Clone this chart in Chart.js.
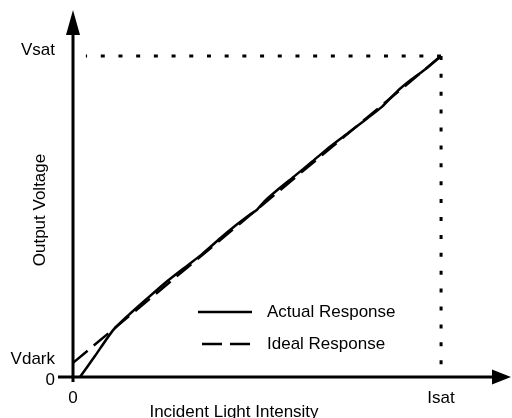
<!DOCTYPE html>
<html>
<head>
<meta charset="utf-8">
<script src="https://cdn.jsdelivr.net/npm/chart.js@4.4.1/dist/chart.umd.min.js"></script>
<style>
  html, body { margin: 0; padding: 0; background: #fff; }
  canvas { display: block; }
</style>
</head>
<body>
<canvas id="chart" width="512" height="418"></canvas>
<script>
// values in units of Isat (x) and Vsat (y)
const vdark = 0.044;
const xTicks = [0, 1];
const xTickLabels = ['0', 'Isat'];
const yTicks = [0, vdark, 1];
const yTickLabels = ['0', 'Vdark', 'Vsat'];

const actualX = [0.019, 0.06, 0.109, 0.15, 0.20, 0.25, 0.30, 0.35, 0.40, 0.44, 0.48, 0.50, 0.52, 0.56, 0.60, 0.65, 0.70, 0.75, 0.80, 0.84, 0.88, 0.92, 0.96, 1.0];
const actualY = [0, 0.066, 0.146, 0.192, 0.243, 0.293, 0.338, 0.382, 0.432, 0.470, 0.505, 0.521, 0.547, 0.587, 0.624, 0.671, 0.719, 0.762, 0.806, 0.842, 0.889, 0.927, 0.961, 1.0];

const idealX = [0, 1];
const idealY = [vdark, 1];

// dotted saturation guides, both drawn from the corner outwards
const satHX = [1, 0.035];
const satHY = [1, 1];
const satVX = [1, 1];
const satVY = [1, 0];

// y tick labels sit a little off their tick in the original (px, + = down)
const yLabelNudge = [3.5, -3.5, -5.5];

const FONT = "'Liberation Sans', Arial, Helvetica, sans-serif";
Chart.defaults.font.family = FONT;
Chart.defaults.font.size = 17;
Chart.defaults.color = '#000';

const pts = (xs, ys) => xs.map((x, i) => ({ x: x, y: ys[i] }));

// axes with arrows, axis titles and the legend
const decorations = {
  id: 'decorations',
  afterDraw(chart) {
    const c = chart.ctx;
    const x = chart.scales.x, y = chart.scales.y;
    const ox = x.getPixelForValue(0), oy = y.getPixelForValue(0);
    const topY = chart.chartArea.top, rightX = chart.chartArea.right;
    c.save();
    c.strokeStyle = '#000';
    c.fillStyle = '#000';
    c.lineWidth = 3;
    c.lineCap = 'butt';
    // y axis
    c.beginPath();
    c.moveTo(ox, oy + 5);
    c.lineTo(ox, topY + 20);
    c.stroke();
    c.beginPath();
    c.moveTo(ox, topY);
    c.lineTo(ox - 7, topY + 25);
    c.lineTo(ox + 7, topY + 25);
    c.closePath();
    c.fill();
    // x axis
    c.beginPath();
    c.moveTo(ox - 15, oy);
    c.lineTo(rightX - 15, oy);
    c.stroke();
    c.beginPath();
    c.moveTo(rightX, oy);
    c.lineTo(rightX - 19, oy - 7.5);
    c.lineTo(rightX - 19, oy + 7.5);
    c.closePath();
    c.fill();

    // axis titles
    c.font = '17px ' + FONT;
    c.textAlign = 'center';
    c.textBaseline = 'alphabetic';
    c.fillText('Incident Light Intensity', 234, 417);
    c.save();
    c.translate(40, 210);
    c.rotate(-Math.PI / 2);
    c.textBaseline = 'middle';
    c.fillText('Output Voltage', 0, 0);
    c.restore();

    // legend
    c.lineWidth = 2.5;
    c.beginPath();
    c.moveTo(198, 312);
    c.lineTo(252, 312);
    c.stroke();
    c.setLineDash([20, 8]);
    c.beginPath();
    c.moveTo(202, 344);
    c.lineTo(250, 344);
    c.stroke();
    c.setLineDash([]);
    c.textAlign = 'left';
    c.textBaseline = 'middle';
    c.fillText('Actual Response', 267, 312);
    c.fillText('Ideal Response', 267, 344);
    c.restore();
  }
};

new Chart(document.getElementById('chart'), {
  type: 'scatter',
  data: {
    datasets: [
      { label: 'Actual Response', data: pts(actualX, actualY), showLine: true,
        borderColor: '#000', borderWidth: 2.5, pointRadius: 0, tension: 0.2 },
      { label: 'Ideal Response', data: pts(idealX, idealY), showLine: true,
        borderColor: '#000', borderWidth: 2.5, pointRadius: 0, borderDash: [19, 8] },
      { data: pts(satHX, satHY), showLine: true, borderColor: '#000', borderWidth: 3,
        pointRadius: 0, borderDash: [4, 13.7], borderCapStyle: 'butt' },
      { data: pts(satVX, satVY), showLine: true, borderColor: '#000', borderWidth: 3,
        pointRadius: 0, borderDash: [4, 13.9], borderCapStyle: 'butt' }
    ]
  },
  options: {
    responsive: false,
    animation: false,
    clip: false,
    layout: { padding: { top: 10, right: 1, left: 0, bottom: 0 } },
    plugins: { legend: { display: false }, tooltip: { enabled: false } },
    scales: {
      x: {
        type: 'linear', min: 0, max: 1.19,
        grid: { display: false, drawTicks: false },
        border: { display: false },
        afterFit: s => { s.height = 41; s.paddingLeft = 0; s.paddingRight = 0; },
        afterBuildTicks: s => { s.ticks = xTicks.map(v => ({ value: v })); },
        ticks: { padding: 11, autoSkip: false, maxRotation: 0,
          callback: (v, i) => xTickLabels[i] }
      },
      y: {
        type: 'linear', min: 0, max: 1.143,
        grid: { display: false, drawTicks: false },
        border: { display: false },
        afterFit: s => { s.width = 73; s.paddingTop = 0; s.paddingBottom = 0; },
        afterBuildTicks: s => { s.ticks = yTicks.map(v => ({ value: v })); },
        ticks: {
          padding: 18, autoSkip: false,
          // a blank line above/below shifts the label by half the line height
          callback: (v, i) => yLabelNudge[i] < 0 ? [yTickLabels[i], ''] : ['', yTickLabels[i]],
          font: ctx => ({ family: FONT, size: 17, lineHeight: (Math.abs(yLabelNudge[ctx.index]) * 2) + 'px' })
        }
      }
    }
  },
  plugins: [decorations]
});
</script>
</body>
</html>
